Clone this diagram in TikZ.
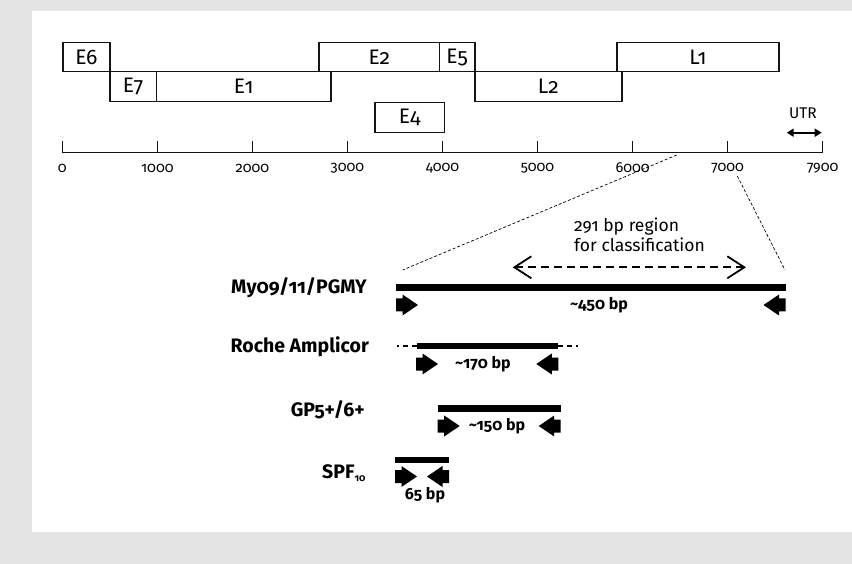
\documentclass[tikz,border=0pt]{standalone}
\usepackage{fontspec}
\setmainfont{Fira Sans}[Numbers=OldStyle]
\usetikzlibrary{arrows.meta}
\definecolor{panelgray}{RGB}{228,228,228}
\definecolor{ink}{RGB}{20,20,20}
\begin{document}
\begin{tikzpicture}[x=1pt,y=-1pt,
  gene/.style={draw=ink, line width=1.2pt, inner sep=0pt, anchor=north west,
    font=\fontsize{21}{21}\selectfont},
  ticklab/.style={font=\fontsize{14.5}{14.5}\selectfont, inner sep=0pt},
  assay/.style={anchor=east, inner sep=0pt, font=\fontsize{19.5}{19.5}\selectfont\bfseries},
  size/.style={inner sep=0pt, font=\fontsize{16}{16}\selectfont\bfseries},
  bar/.style={line width=6.8pt, line cap=butt, draw=black},
  zoomline/.style={line width=0.7pt, dash pattern=on 3pt off 2pt},
  fwdprimer/.pic={\fill[black] (0,-6.5) -- (6.5,-6.5) -- (6.5,-10.5) -- (22,0)
      -- (6.5,10.5) -- (6.5,6.5) -- (0,6.5) -- cycle;},
  revprimer/.pic={\fill[black] (0,-6.5) -- (-6.5,-6.5) -- (-6.5,-10.5) -- (-22,0)
      -- (-6.5,10.5) -- (-6.5,6.5) -- (0,6.5) -- cycle;},
]
% background and panel
\fill[panelgray] (0,0) rectangle (852,564);
\fill[white] (32,11) rectangle (852,532);
\useasboundingbox (0,0) rectangle (852,564);

% open reading frames
\node[gene, minimum width=47pt,  minimum height=29.3pt] (e6) at (62.3,42)   {E6};
\node[gene, minimum width=46.4pt,minimum height=29.4pt] (e7) at (109.3,71.3) {E7};
\node[gene, minimum width=174.6pt,minimum height=29.4pt](e1) at (155.7,71.3) {E1};
\node[gene, minimum width=120.7pt,minimum height=29.3pt](e2) at (318.3,42)   {E2};
\node[gene, minimum width=35.3pt, minimum height=29.3pt](e5) at (439,42)     {E5};
\node[gene, minimum width=69.4pt, minimum height=29.4pt](e4) at (374.3,102.3) {E4};
\node[gene, minimum width=147pt,  minimum height=29.4pt](l2) at (474.3,71.3) {L2};
\node[gene, minimum width=162pt,  minimum height=29.3pt](l1) at (616.3,42)   {L1};

% genome scale
\coordinate (ax0) at (62.3,152.7);
\coordinate (ax1) at (822.7,152.7);
\draw[line width=1.3pt, draw=ink] (ax0) -- (ax1);
\foreach \k/\lab in {0/0,1/1000,2/2000,3/3000,4/4000,5/5000,6/6000,7/7000,8/7900}{
  \coordinate (tk\k) at (62.3+\k*95.05,152.7);
  \draw[line width=1.3pt, draw=ink] (tk\k) -- ++(0,-12);
  \node[ticklab] (tl\k) at (62.3+\k*95.05,168) {\lab};
}

% untranslated region
\node[inner sep=0pt, font=\fontsize{15.5}{15.5}\selectfont] (utr) at (803,113) {UTR};
\coordinate (utrL) at (786.7,132.7);
\coordinate (utrR) at (821.7,132.7);
\draw[line width=2pt, {Triangle[length=7pt,width=8pt]}-{Triangle[length=7pt,width=8pt]}] (utrL) -- (utrR);

% zoom into the L1 region
\coordinate (zA) at (676.7,155);
\coordinate (zB) at (402.7,270);
\coordinate (zC) at (737.3,176);
\coordinate (zD) at (785,270);
\draw[zoomline] (zA) -- (zB);
\draw[zoomline] (zC) -- (zD);

% classification region
\node[anchor=west, align=left, inner sep=0pt, font=\fontsize{17.5}{20}\selectfont] (cls) at (574,235)
  {291 bp region\\for classification};
\coordinate (clsL) at (512.7,267.3);
\coordinate (clsR) at (746,267.3);
\draw[line width=1.8pt, dash pattern=on 8pt off 5pt,
  {Straight Barb[length=17pt,width=22pt,line width=1.8pt]}-{Straight Barb[length=17pt,width=22pt,line width=1.8pt]}]
  (clsL) -- (clsR);

% MY09/11/PGMY
\node[assay] (myo) at (367,287.5) {My09/11/PGMY};
\coordinate (myoL) at (396,287.5);
\coordinate (myoR) at (785.5,287.5);
\draw[bar] (myoL) -- (myoR);
\pic (myoF) at (396,305) {fwdprimer};
\pic (myoB) at (785.5,305) {revprimer};
\node[size] (myoS) at (599,305) {\textasciitilde450 bp};

% Roche Amplicor
\node[assay] (roche) at (369,346.7) {Roche Amplicor};
\coordinate (rocL) at (416.7,346);
\coordinate (rocR) at (558.3,346);
\coordinate (rocLL) at (397,346);
\coordinate (rocRR) at (578.3,346);
\draw[bar, line width=6.5pt] (rocL) -- (rocR);
\draw[line width=2.4pt, dash pattern=on 5pt off 4pt] (rocL) -- (rocLL);
\draw[line width=2.4pt, dash pattern=on 5pt off 4pt] (rocR) -- (rocRR);
\pic (rocF) at (416,364) {fwdprimer};
\pic (rocB) at (558.3,364) {revprimer};
\node[size] (rocS) at (483,364) {\textasciitilde170 bp};

% GP5+/6+
\node[assay] (gp) at (365,410) {GP5+/6+};
\coordinate (gpL) at (437.7,408.3);
\coordinate (gpR) at (560.7,408.3);
\draw[bar, line width=6.6pt] (gpL) -- (gpR);
\pic (gpF) at (437.7,426) {fwdprimer};
\pic (gpB) at (560.7,426) {revprimer};
\node[size] (gpS) at (497,426) {\textasciitilde150 bp};

% SPF10
\node[assay, anchor=base east] (spf) at (366,478.5) {SPF\textsubscript{\fontsize{10}{10}\selectfont 10}};
\coordinate (spfL) at (395,460);
\coordinate (spfR) at (449,460);
\draw[bar, line width=6.6pt] (spfL) -- (spfR);
\pic (spfF) at (395,476.5) {fwdprimer};
\pic (spfB) at (449,476.5) {revprimer};
\node[size] (spfS) at (425,495) {65 bp};
\end{tikzpicture}
\end{document}
